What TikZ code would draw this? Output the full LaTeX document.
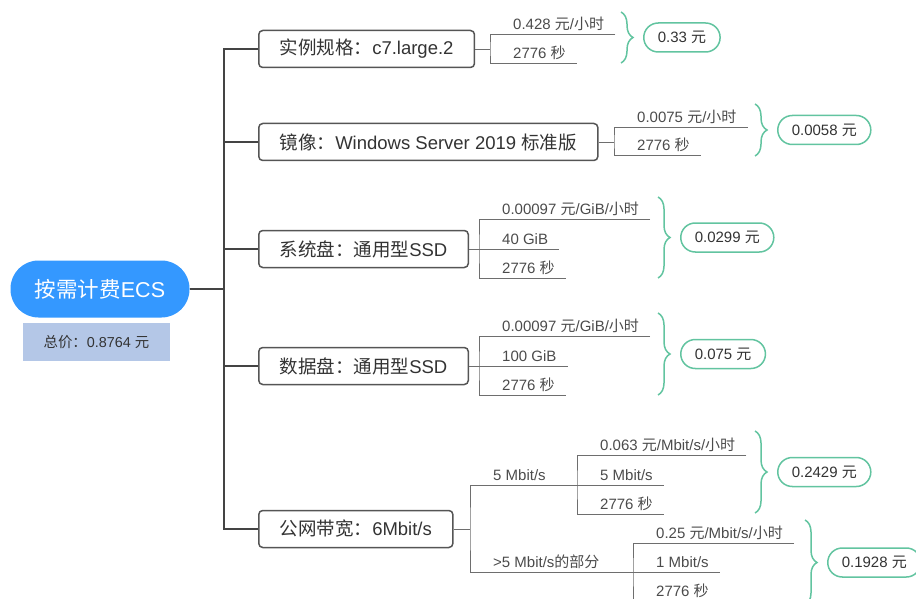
\documentclass[tikz,border=0pt]{standalone}
\usepackage{fontspec}
\setmainfont{Liberation Sans}
\newfontfamily\cjkfont{Noto Sans CJK SC}
\newcommand{\zh}[1]{{\cjkfont #1}}
\usepackage{tikz}
\usetikzlibrary{positioning,decorations.pathreplacing}
\definecolor{rootblue}{RGB}{52,152,255}
\definecolor{totalblue}{RGB}{180,199,231}
\definecolor{boxgray}{RGB}{85,85,85}
\definecolor{trunkgray}{RGB}{68,68,68}
\definecolor{twiggray}{RGB}{110,110,110}
\definecolor{leafgray}{RGB}{75,75,75}
\definecolor{costgreen}{RGB}{98,196,160}
\definecolor{textdark}{RGB}{51,51,51}

\begin{document}
\begin{tikzpicture}[x=1pt, y=-1pt,
	root/.style={fill=rootblue, text=white, rounded corners=28pt, minimum width=179pt, minimum height=57pt, font=\fontsize{21.5}{24}\selectfont},
	total/.style={fill=totalblue, text=textdark, minimum width=147pt, minimum height=38pt, font=\fontsize{14.4}{16}\selectfont},
	item/.style={draw=boxgray, line width=1.5pt, rounded corners=4pt, fill=white, text=textdark, anchor=west, inner xsep=21pt, minimum height=37pt, font=\fontsize{18.5}{20}\selectfont},
	leaf/.style={anchor=south west, inner xsep=11pt, inner ysep=4pt, text depth=0pt, text=leafgray, font=\fontsize{15}{17}\selectfont},
	cost/.style={draw=costgreen, line width=1.5pt, rounded corners=14.5pt, fill=white, text=textdark, inner xsep=14pt, minimum height=29pt, font=\fontsize{15}{17}\selectfont},
	trunk/.style={draw=trunkgray, line width=2.5pt},
	twig/.style={draw=twiggray, line width=0.8pt},
	bracket/.style={draw=costgreen, line width=1.5pt, decorate, decoration={brace, amplitude=12pt, aspect=0.5}}]
	\useasboundingbox (0,0) rectangle (916,599);
	\clip (0,0) rectangle (916,599);
	
	%root
	\node[root] (ecs) at (100,289) {\zh{按需计费}ECS};
	\node[total] (sum) at (96.5,342) {\zh{总价：}0.8764 \zh{元}};
	
	%items
	\node[item] (spec) at (258,49) {\zh{实例规格：}c7.large.2};
	\node[item] (image) at (258,142) {\zh{镜像：}Windows Server 2019 \zh{标准版}};
	\node[item] (sysdisk) at (258,249) {\zh{系统盘：通用型}SSD};
	\node[item] (datadisk) at (258,366) {\zh{数据盘：通用型}SSD};
	\node[item] (bw) at (258,529) {\zh{公网带宽：}6Mbit/s};
	
	%trunk
	\coordinate (fork) at (224,289);
	\draw[trunk] (ecs.east) -- (fork);
	\draw[trunk] (spec.west) -| (fork) |- (bw.west);
	\foreach \b in {image,sysdisk,datadisk}
	\draw[trunk] (\b.west) -- (\b.west -| fork);
	
	%leaves
	\coordinate (f1) at (490,49);
	\node[leaf] (p1) at (502,34) {0.428 \zh{元}/\zh{小时}};
	\node[leaf] (t1) at (502,63) {2776 \zh{秒}};
	\draw[twig] (spec.east) -- (f1);
	\draw[twig] (p1.south east) -| (f1) |- (t1.south east);
	
	\coordinate (f2) at (614,142);
	\node[leaf] (p2) at (626,127) {0.0075 \zh{元}/\zh{小时}};
	\node[leaf] (t2) at (626,155) {2776 \zh{秒}};
	\draw[twig] (image.east) -- (f2);
	\draw[twig] (p2.south east) -| (f2) |- (t2.south east);
	
	\coordinate (f3) at (479,249);
	\node[leaf] (p3) at (491,219) {0.00097 \zh{元}/GiB/\zh{小时}};
	\node[leaf] (s3) at (491,249) {40 GiB};
	\node[leaf] (t3) at (491,278) {2776 \zh{秒}};
	\draw[twig] (sysdisk.east) -- (s3.south east);
	\draw[twig] (p3.south east) -| (f3) |- (t3.south east);
	
	\coordinate (f4) at (479,366);
	\node[leaf] (p4) at (491,336) {0.00097 \zh{元}/GiB/\zh{小时}};
	\node[leaf] (s4) at (491,366) {100 GiB};
	\node[leaf] (t4) at (491,395) {2776 \zh{秒}};
	\draw[twig] (datadisk.east) -- (s4.south east);
	\draw[twig] (p4.south east) -| (f4) |- (t4.south east);
	
	%bandwidth
	\coordinate (f5) at (470,529);
	\coordinate (g1) at (577,485);
	\coordinate (g2) at (633,572);
	\node[leaf] (lo) at (482,485) {5 Mbit/s};
	\node[leaf] (hi) at (482,572) {>5 Mbit/s\zh{的部分}};
	\draw[twig] (bw.east) -- (f5);
	\draw[twig] (g1) -| (f5) |- (g2);
	
	\node[leaf] (p5) at (589,455) {0.063 \zh{元}/Mbit/s/\zh{小时}};
	\node[leaf] (q5) at (589,485) {5 Mbit/s};
	\node[leaf] (t5) at (589,514) {2776 \zh{秒}};
	\draw[twig] (g1) -- (q5.south east);
	\draw[twig] (p5.south east) -| (g1) |- (t5.south east);
	
	\node[leaf] (p6) at (645,543) {0.25 \zh{元}/Mbit/s/\zh{小时}};
	\node[leaf] (q6) at (645,572) {1 Mbit/s};
	\node[leaf] (t6) at (645,601) {2776 \zh{秒}};
	\draw[twig] (g2) -- (q6.south east);
	\draw[twig] (p6.south east) -| (g2) |- (t6.south east);
	
	%costs
	\draw[bracket] (621,12) -- node[cost, right=22pt] (c1) {0.33 \zh{元}} (621,63);
	\draw[bracket] (755,104) -- node[cost, right=22pt] (c2) {0.0058 \zh{元}} (755,156);
	\draw[bracket] (658,197) -- node[cost, right=22pt] (c3) {0.0299 \zh{元}} (658,278);
	\draw[bracket] (658,313) -- node[cost, right=22pt] (c4) {0.075 \zh{元}} (658,395);
	\draw[bracket] (755,431) -- node[cost, right=22pt] (c5) {0.2429 \zh{元}} (755,513);
	\draw[bracket] (805,520) -- node[cost, right=22pt] (c6) {0.1928 \zh{元}} (805,605);
\end{tikzpicture}
\end{document}
